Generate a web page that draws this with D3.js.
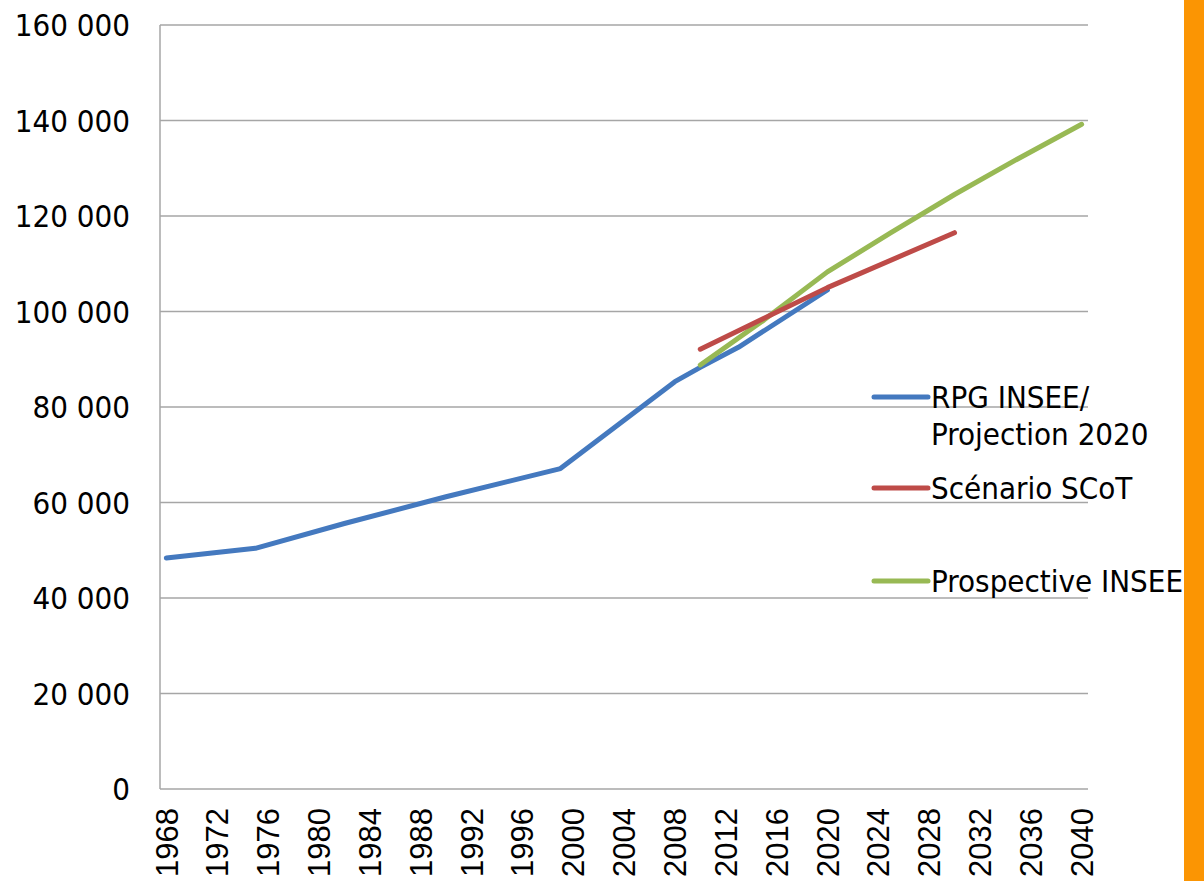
<!DOCTYPE html>
<html>
<head>
<meta charset="utf-8">
<script src="https://cdn.jsdelivr.net/npm/d3@7"></script>
<style>
  body { margin: 0; background: #fff; }
  svg { display: block; }
</style>
</head>
<body>
<div id="chart"></div>
<script>
// categories on the x axis (one per year) and labelled ticks
var firstYear = 1968, lastYear = 2040;
var tickYears = [1968, 1972, 1976, 1980, 1984, 1988, 1992, 1996, 2000, 2004, 2008,
                 2012, 2016, 2020, 2024, 2028, 2032, 2036, 2040];
var yTicks = [0, 20000, 40000, 60000, 80000, 100000, 120000, 140000, 160000];

// RPG INSEE / Projection 2020
var rpgYears = [1968, 1975, 1982, 1990, 1999, 2008, 2010, 2013, 2020];
var rpgValues = [48400, 50400, 55600, 61200, 67100, 85300, 88300, 92500, 104500];

// Scénario SCoT
var scotYears = [2010, 2020, 2030];
var scotValues = [92100, 105000, 116500];

// Prospective INSEE
var prospYears = [2010, 2015, 2020, 2025, 2030, 2035, 2040];
var prospValues = [88800, 98200, 108300, 116500, 124500, 132000, 139200];

var seriesNames = ['RPG INSEE/|Projection 2020', 'Scénario SCoT', 'Prospective INSEE'];
var seriesColors = ['#4479BF', '#BE4B48', '#98B954'];

var width = 1204, height = 881;
var plot = { left: 160, right: 1088, top: 25, bottom: 789 };

var svg = d3.select('#chart').append('svg')
  .attr('width', width)
  .attr('height', height);

var years = [];
for (var yr = firstYear; yr <= lastYear; yr++) years.push(yr);

var x = d3.scaleBand()
  .domain(years)
  .range([plot.left, plot.right]);

var y = d3.scaleLinear()
  .domain([0, 160000])
  .range([plot.bottom, plot.top]);

var fr = d3.formatLocale({ decimal: ',', thousands: ' ', grouping: [3], currency: ['', ''] });
var fmt = fr.format(',');

function xc(yr) { return x(yr) + x.bandwidth() / 2; }

// gridlines
svg.append('g').selectAll('line')
  .data(yTicks)
  .enter().append('line')
  .attr('x1', plot.left)
  .attr('x2', plot.right)
  .attr('y1', function(d) { return y(d); })
  .attr('y2', function(d) { return y(d); })
  .attr('stroke', '#a6a6a6')
  .attr('stroke-width', 1.5);

// left axis line
svg.append('line')
  .attr('x1', plot.left).attr('x2', plot.left)
  .attr('y1', plot.top).attr('y2', plot.bottom)
  .attr('stroke', '#a6a6a6')
  .attr('stroke-width', 1.5);

// y labels
svg.append('g').selectAll('text')
  .data(yTicks)
  .enter().append('text')
  .attr('x', 130)
  .attr('y', function(d) { return y(d); })
  .attr('dy', '0.36em')
  .attr('text-anchor', 'end')
  .style('font-family', '"DejaVu Sans Condensed", "DejaVu Sans", sans-serif')
  .style('font-size', '31px')
  .style('fill', '#000')
  .text(function(d) { return fmt(d); });

// x labels, rotated
svg.append('g').selectAll('text')
  .data(tickYears)
  .enter().append('text')
  .attr('transform', function(d) { return 'translate(' + xc(d) + ',' + 808 + ') rotate(-90)'; })
  .attr('dy', '0.36em')
  .attr('text-anchor', 'end')
  .style('font-family', '"Liberation Sans Narrow", "Liberation Sans", sans-serif')
  .style('font-size', '31px')
  .style('fill', '#000')
  .text(function(d) { return d; });

var line = d3.line()
  .x(function(d) { return xc(d[0]); })
  .y(function(d) { return y(d[1]); });

var series = [
  d3.zip(rpgYears, rpgValues),
  d3.zip(scotYears, scotValues),
  d3.zip(prospYears, prospValues)
];

// draw green first so red and blue sit above like the original
[0, 2, 1].forEach(function(i) {
  svg.append('path')
    .datum(series[i])
    .attr('d', line)
    .attr('fill', 'none')
    .attr('stroke', seriesColors[i])
    .attr('stroke-width', 5)
    .attr('stroke-linejoin', 'round')
    .attr('stroke-linecap', 'round');
});

// legend
var legendY = [397, 488, 581];
var legend = svg.append('g');
seriesNames.forEach(function(name, i) {
  legend.append('line')
    .attr('x1', 874).attr('x2', 928)
    .attr('y1', legendY[i]).attr('y2', legendY[i])
    .attr('stroke', seriesColors[i])
    .attr('stroke-width', 5)
    .attr('stroke-linecap', 'round');
  var t = legend.append('text')
    .attr('x', 931)
    .attr('y', legendY[i] + 11)
    .style('font-family', '"DejaVu Sans Condensed", "DejaVu Sans", sans-serif')
    .style('font-size', '31px')
    .style('fill', '#000');
  name.split('|').forEach(function(part, k) {
    t.append('tspan')
      .attr('x', 931)
      .attr('dy', k === 0 ? 0 : 36.5)
      .text(part);
  });
});

// orange strip at the right edge
svg.append('rect')
  .attr('x', 1184)
  .attr('y', 0)
  .attr('width', width - 1184)
  .attr('height', height)
  .attr('fill', '#FB9503');
</script>
</body>
</html>
